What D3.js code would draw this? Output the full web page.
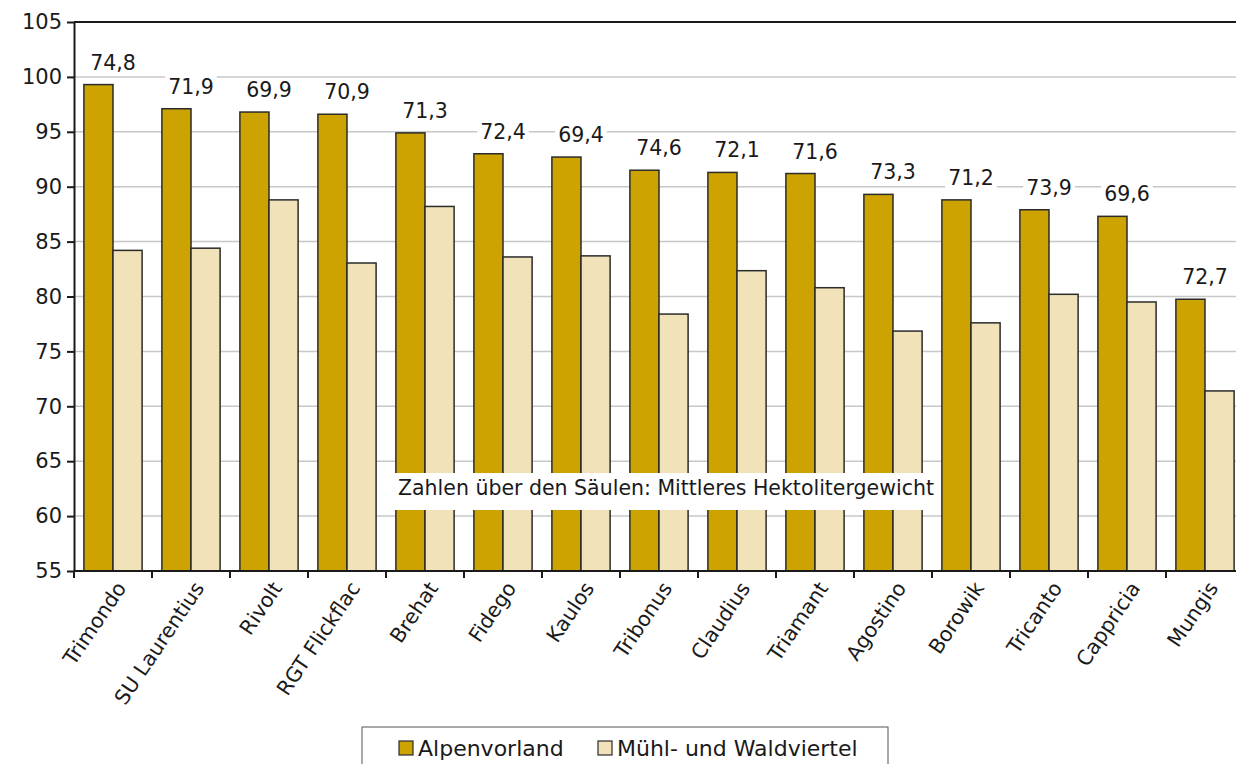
<!DOCTYPE html>
<html lang="de">
<head>
    <meta charset="UTF-8">
    <title>Hektolitergewicht</title>
    <script src="https://d3js.org/d3.v7.min.js"></script>
</head>
<style>
    *{margin: 0;padding: 0}
    body{background: #fff;width: 1236px;height: 764px;overflow: hidden}
    text{font-family: "DejaVu Sans", Verdana, sans-serif;fill: #1a1a1a}
    .grid line{stroke: #c8c8c8;stroke-width: 1.5}
    .axis path,.axis line{stroke: #1a1a1a;stroke-width: 2}
</style>
<body>
<div id="chart"></div>
<script>
    // Sorten
    var categories = ['Trimondo','SU Laurentius','Rivolt','RGT Flickflac','Brehat','Fidego','Kaulos',
        'Tribonus','Claudius','Triamant','Agostino','Borowik','Tricanto','Cappricia','Mungis'];
    // Säulenhöhe je Gebiet
    var alpenvorland = [99.3,97.1,96.8,96.6,94.9,93.0,92.7,91.5,91.3,91.2,89.3,88.8,87.9,87.3,79.75];
    var muehlWald = [84.2,84.4,88.8,83.05,88.2,83.6,83.7,78.4,82.35,80.8,76.85,77.6,80.2,79.5,71.4];
    // Zahlen über den Säulen: mittleres Hektolitergewicht
    var hlGewicht = ['74,8','71,9','69,9','70,9','71,3','72,4','69,4','74,6','72,1','71,6','73,3','71,2','73,9','69,6','72,7'];
    var seriesNames = ['Alpenvorland','Mühl- und Waldviertel'];
    var yTicks = [55,60,65,70,75,80,85,90,95,100,105];

    var colors = ['#CCA300','#F2E2B9'];

    var width = 1236, height = 764;
    var mLeft = 74, mRight = 1244, mTop = 22, mBottom = 571;

    var svg = d3.select('#chart').append('svg')
            .attr('width', width)
            .attr('height', height);

    var x = d3.scaleBand().domain(categories).range([mLeft, mRight]).padding(0);
    var xs = d3.scaleBand().domain([0,1]).range([0, x.bandwidth()]).paddingInner(0).paddingOuter(0.34);
    var y = d3.scaleLinear().domain([55,105]).range([mBottom, mTop]);

    /* gitter */
    svg.append('g').attr('class','grid')
            .selectAll('line')
            .data(yTicks.slice(1, -1))
            .enter().append('line')
            .attr('x1', mLeft).attr('x2', mRight)
            .attr('y1', function (d) { return y(d); })
            .attr('y2', function (d) { return y(d); });

    // oberer rahmen
    svg.append('line')
            .attr('x1', mLeft).attr('x2', mRight)
            .attr('y1', y(105)).attr('y2', y(105))
            .attr('stroke', '#1a1a1a').attr('stroke-width', 2);

    /* säulen */
    var groups = svg.append('g').selectAll('.grp')
            .data(categories)
            .enter().append('g')
            .attr('class', 'grp')
            .attr('transform', function (d) { return 'translate(' + x(d) + ',0)'; });

    groups.selectAll('rect')
            .data(function (d, i) { return [alpenvorland[i], muehlWald[i]]; })
            .enter().append('rect')
            .attr('x', function (d, j) { return xs(j); })
            .attr('y', function (d) { return y(d); })
            .attr('width', xs.bandwidth())
            .attr('height', function (d) { return y(55) - y(d); })
            .attr('fill', function (d, j) { return colors[j]; })
            .attr('stroke', '#2b2b2b')
            .attr('stroke-width', 1.5);

    /* labels über den säulen */
    groups.each(function (d, i) {
        var g = d3.select(this);
        var cx = x.bandwidth() / 2;
        var ty = y(alpenvorland[i]) - 15;
        var t = g.append('text')
                .attr('x', cx).attr('y', ty)
                .attr('text-anchor', 'middle')
                .attr('font-size', 20.5)
                .text(hlGewicht[i]);
        var bb = t.node().getBBox();
        g.insert('rect', 'text')
                .attr('x', bb.x - 3).attr('y', bb.y)
                .attr('width', bb.width + 6).attr('height', bb.height)
                .attr('fill', '#fff');
    });

    /* y achse */
    var yAxis = svg.append('g').attr('class','axis')
            .attr('transform', 'translate(' + mLeft + ',0)')
            .call(d3.axisLeft(y).tickValues(yTicks).tickSize(7).tickSizeOuter(0));
    yAxis.selectAll('text').attr('font-size', 21).attr('dx', -2).attr('fill', '#1a1a1a')
            .style('font-family', '"DejaVu Sans", Verdana, sans-serif');

    /* x achse */
    var xAxis = svg.append('g').attr('class','axis')
            .attr('transform', 'translate(0,' + mBottom + ')');
    xAxis.append('line')
            .attr('x1', mLeft).attr('x2', mRight)
            .attr('stroke', '#1a1a1a').attr('stroke-width', 2);
    xAxis.selectAll('.tk')
            .data(categories)
            .enter().append('line')
            .attr('class','tk')
            .attr('x1', function (d) { return x(d); })
            .attr('x2', function (d) { return x(d); })
            .attr('y1', 0).attr('y2', 7);
    xAxis.selectAll('.lbl')
            .data(categories)
            .enter().append('text')
            .attr('class','lbl')
            .attr('text-anchor', 'end')
            .attr('font-size', 20.5)
            .attr('transform', function (d) {
                return 'translate(' + (x(d) + x.bandwidth() / 2 + 8) + ',13) rotate(-56)';
            })
            .attr('dy', '0.35em')
            .text(function (d) { return d; });

    /* hinweis-box */
    var note = svg.append('g');
    var nt = note.append('text')
            .attr('x', 398).attr('y', y(62.6))
            .attr('dy', '0.35em')
            .attr('font-size', 20.5)
            .text('Zahlen über den Säulen: Mittleres Hektolitergewicht');
    var nb = nt.node().getBBox();
    note.insert('rect', 'text')
            .attr('x', 393).attr('y', 473)
            .attr('width', nb.width + 10).attr('height', 37)
            .attr('fill', '#fff');

    /* legende */
    var legend = svg.append('g');
    legend.append('rect')
            .attr('x', 362).attr('y', 727)
            .attr('width', 526).attr('height', 50)
            .attr('fill', '#fff').attr('stroke', '#555').attr('stroke-width', 1);
    var lx = [399, 598];
    seriesNames.forEach(function (n, i) {
        legend.append('rect')
                .attr('x', lx[i]).attr('y', 741)
                .attr('width', 14).attr('height', 14)
                .attr('fill', colors[i]).attr('stroke', '#2b2b2b').attr('stroke-width', 1.2);
        legend.append('text')
                .attr('x', lx[i] + 19).attr('y', 748)
                .attr('dy', '0.35em')
                .attr('font-size', 22)
                .text(n);
    });
</script>
</body>
</html>
